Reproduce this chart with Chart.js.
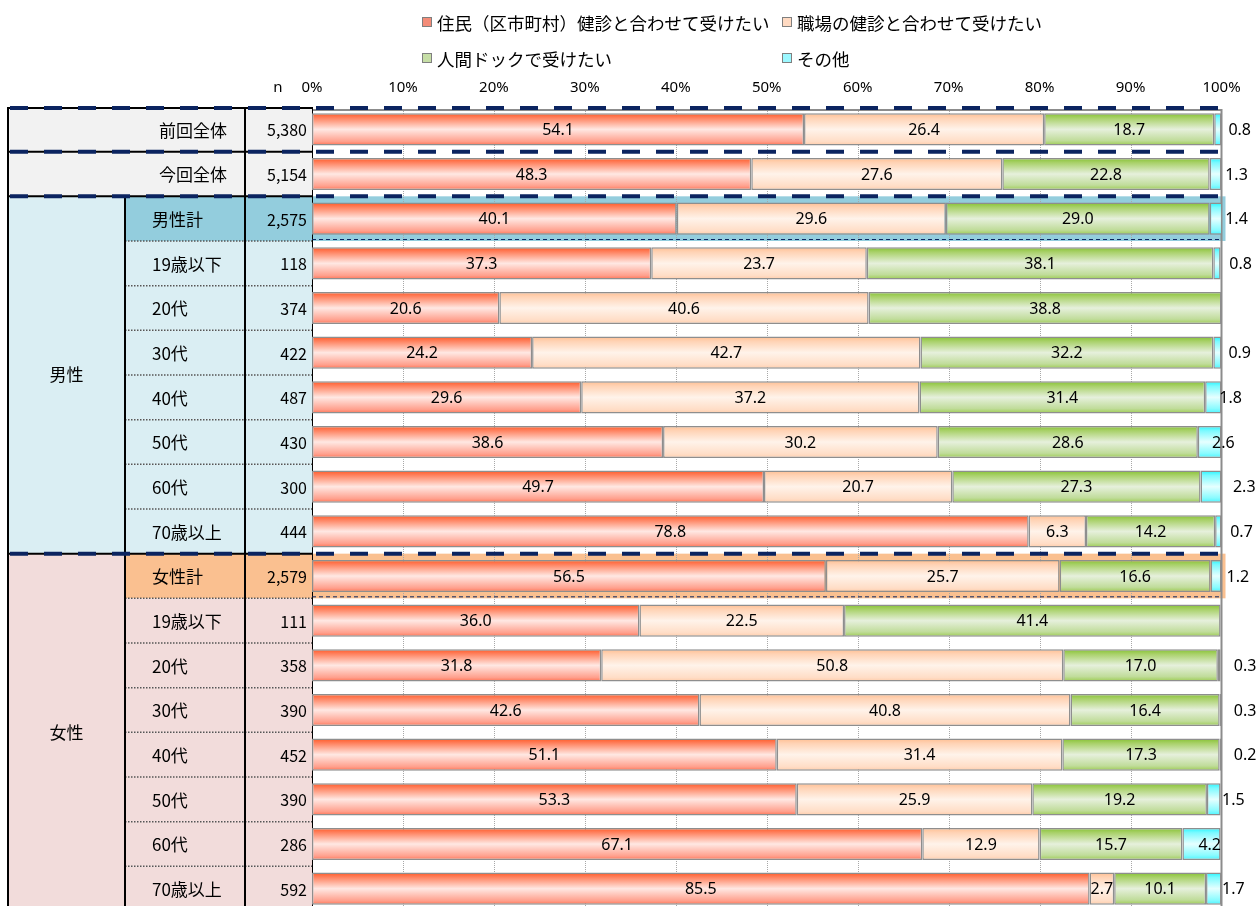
<!DOCTYPE html>
<html><head><meta charset="utf-8">
<script src="https://cdn.jsdelivr.net/npm/chart.js@4.4.1/dist/chart.umd.min.js"></script>
<style>html,body{margin:0;padding:0;background:#fff;overflow:hidden;width:1256px;height:906px}canvas{display:block}</style>
</head><body>
<canvas id="c" width="1256" height="912"></canvas>
<script>
// ---- data ----
const categories = ['前回全体','今回全体','男性計','19歳以下','20代','30代','40代','50代','60代','70歳以上','女性計','19歳以下','20代','30代','40代','50代','60代','70歳以上'];
const rowGroups = ['','','男性','男性','男性','男性','男性','男性','男性','男性','女性','女性','女性','女性','女性','女性','女性','女性'];
const sampleSizes = ['5,380','5,154','2,575','118','374','422','487','430','300','444','2,579','111','358','390','452','390','286','592'];
const seriesNames = ['住民（区市町村）健診と合わせて受けたい','職場の健診と合わせて受けたい','人間ドックで受けたい','その他'];
const jumin   = [54.1,48.3,40.1,37.3,20.6,24.2,29.6,38.6,49.7,78.8,56.5,36.0,31.8,42.6,51.1,53.3,67.1,85.5];
const shokuba = [26.4,27.6,29.6,23.7,40.6,42.7,37.2,30.2,20.7,6.3,25.7,22.5,50.8,40.8,31.4,25.9,12.9,2.7];
const dock    = [18.7,22.8,29.0,38.1,38.8,32.2,31.4,28.6,27.3,14.2,16.6,41.4,17.0,16.4,17.3,19.2,15.7,10.1];
const other   = [0.8,1.3,1.4,0.8,0,0.9,1.8,2.6,2.3,0.7,1.2,0,0.3,0.3,0.2,1.5,4.2,1.7];
const tickLabels = ['0%','10%','20%','30%','40%','50%','60%','70%','80%','90%','100%'];
const nHeader = 'n';

// ---- style config (label anchors for the small "その他" values, in axis % units) ----
const otherLabelX = [102.0,101.65,101.65,102.1,null,102.0,101.0,100.2,102.5,102.2,101.8,null,102.6,102.6,102.6,101.3,98.7,101.3];
const gradStops = [
  [[0,'#FF5A26'],[0.12,'#FF7B56'],[0.5,'#FFE8E3'],[0.88,'#FF9F8C'],[1,'#FF7252']],
  [[0,'#FFBE92'],[0.15,'#FFD3B5'],[0.5,'#FFF3EA'],[0.88,'#FFDDC6'],[1,'#FFCBA8']],
  [[0,'#86C232'],[0.15,'#A9D16A'],[0.5,'#E6F0DC'],[0.85,'#C0DC9A'],[1,'#9BCB50']],
  [[0,'#22F5FF'],[0.15,'#7CFAFF'],[0.5,'#E6FFFF'],[0.85,'#8AFBFF'],[1,'#46F4FF']]
];
const legendSwatch = ['#F48C78','#FFDAC2','#C6DEA6','#9CF8FF'];
const legendPos = [[422,22],[782,22],[422,58],[782,58]];
const groupFill = {'男性':'#DAEEF3','女性':'#F2DCDB'};
const totalFill = {'男性':'#93CDDD','女性':'#FAC090'};
const overallFill = '#F2F2F2';
const NAVY = '#0B2460';
const COL = {x0:8, x1:125, x2:245};
const BAR_PCT = 0.72;
const JP = '"Noto Sans CJK JP","Noto Sans",sans-serif';
const LAT = '"Noto Sans","DejaVu Sans",sans-serif';

function gradFor(i){
  return function(c){
    const chart = c.chart, ca = chart.chartArea;
    if(!ca || c.dataIndex === undefined) return gradStops[i][2][1];
    const ys = chart.scales.y;
    const rh = (ca.bottom - ca.top)/categories.length;
    const yc = ys.getPixelForValue(c.dataIndex);
    const h = rh*BAR_PCT;
    const g = chart.ctx.createLinearGradient(0, yc-h/2, 0, yc+h/2);
    gradStops[i].forEach(s=>g.addColorStop(s[0], s[1]));
    return g;
  };
}

const seriesData = [jumin, shokuba, dock, other];
const datasets = seriesData.map((d,i)=>({
  label: seriesNames[i],
  data: d,
  backgroundColor: gradFor(i),
  borderColor: '#8E8E8E',
  borderWidth: 1.5,
  borderSkipped: false,
  categoryPercentage: 1,
  barPercentage: BAR_PCT
}));

function dashedLine(ctx, x1, y, x2, w, dash, color){
  ctx.save(); ctx.strokeStyle=color; ctx.lineWidth=w; ctx.setLineDash(dash);
  ctx.beginPath(); ctx.moveTo(x1,y); ctx.lineTo(x2,y); ctx.stroke(); ctx.restore();
}

const decor = {
  id:'decor',
  beforeDraw(chart){
    const ctx = chart.ctx, ca = chart.chartArea, xs = chart.scales.x, ys = chart.scales.y;
    const rh = (ca.bottom-ca.top)/categories.length;
    const x100 = xs.getPixelForValue(100);
    categories.forEach((c,i)=>{
      if(rowGroups[i] && c.endsWith('計')){
        const t = ys.getPixelForValue(i)-rh/2;
        ctx.fillStyle = totalFill[rowGroups[i]];
        ctx.fillRect(ca.left, t, x100+4-ca.left, rh);
      }
    });
  },
  beforeDatasetsDraw(chart){
    const ctx = chart.ctx, ca = chart.chartArea, xs = chart.scales.x;
    const x100 = xs.getPixelForValue(100);
    ctx.save();
    ctx.strokeStyle = '#A8A8A8'; ctx.lineWidth = 1; ctx.setLineDash([1,1]);
    xs.ticks.forEach(t=>{
      if(t.value<=0 || t.value>=100) return;
      const x = Math.round(xs.getPixelForValue(t.value))+0.5;
      ctx.beginPath(); ctx.moveTo(x, ca.top+2); ctx.lineTo(x, ca.bottom); ctx.stroke();
    });
    ctx.setLineDash([]);
    ctx.strokeStyle = '#8C8C8C'; ctx.lineWidth = 2;
    ctx.beginPath(); ctx.moveTo(ca.left, ca.top+3); ctx.lineTo(x100, ca.top+3); ctx.lineTo(x100, ca.bottom); ctx.stroke();
    ctx.strokeStyle = '#000'; ctx.lineWidth = 2;
    ctx.beginPath(); ctx.moveTo(ca.left, ca.top); ctx.lineTo(ca.left, ca.bottom); ctx.stroke();
    ctx.restore();
  },
  afterDatasetsDraw(chart){
    const ctx = chart.ctx, xs = chart.scales.x;
    ctx.save();
    ctx.fillStyle = '#000'; ctx.font = '16px '+LAT; ctx.textBaseline='middle'; ctx.textAlign='center';
    chart.data.datasets.forEach((ds,di)=>{
      const meta = chart.getDatasetMeta(di);
      meta.data.forEach((el,i)=>{
        const v = ds.data[i];
        if(!v) return;
        const p = el.getProps(['x','base','y'], true);
        let x = (p.x+p.base)/2;
        if(di===3){ if(otherLabelX[i]==null) return; x = xs.getPixelForValue(otherLabelX[i]); }
        ctx.fillText(v.toFixed(1), x, p.y+1);
      });
    });
    ctx.restore();
  },
  afterDraw(chart){
    const ctx = chart.ctx, ca = chart.chartArea, xs = chart.scales.x, ys = chart.scales.y;
    const n = categories.length, rh = (ca.bottom-ca.top)/n;
    const X3 = ca.left, x100 = xs.getPixelForValue(100);
    const top = i => ys.getPixelForValue(i)-rh/2;
    const bottom = top(n-1)+rh;
    ctx.save();
    categories.forEach((c,i)=>{
      const g = rowGroups[i], t = top(i);
      if(!g){ ctx.fillStyle = overallFill; ctx.fillRect(COL.x0, t, X3-COL.x0, rh); }
      else {
        ctx.fillStyle = c.endsWith('計') ? totalFill[g] : groupFill[g];
        ctx.fillRect(COL.x1, t, X3-COL.x1, rh);
      }
    });
    const gNames = [...new Set(rowGroups.filter(g=>g))];
    gNames.forEach(g=>{
      const first = rowGroups.indexOf(g), last = rowGroups.lastIndexOf(g);
      const t = top(first), b = top(last)+rh;
      ctx.fillStyle = groupFill[g]; ctx.fillRect(COL.x0, t, COL.x1-COL.x0, b-t);
      ctx.fillStyle = '#000'; ctx.font = '17px '+JP; ctx.textAlign='center'; ctx.textBaseline='middle';
      ctx.fillText(g, (COL.x0+COL.x1)/2, (t+b)/2);
    });
    ctx.strokeStyle = '#555'; ctx.lineWidth = 1.5; ctx.setLineDash([1.5,1.5]);
    categories.forEach((c,i)=>{
      if(i>0 && rowGroups[i] && rowGroups[i]===rowGroups[i-1]){
        const y = top(i);
        ctx.beginPath(); ctx.moveTo(COL.x1, y); ctx.lineTo(X3, y); ctx.stroke();
      }
    });
    ctx.setLineDash([]);
    ctx.fillStyle = '#000'; ctx.textBaseline='middle';
    categories.forEach((c,i)=>{
      const yc = ys.getPixelForValue(i)+1;
      ctx.font = '17px '+JP;
      if(!rowGroups[i]){ ctx.textAlign='right'; ctx.fillText(c, COL.x2-18, yc); }
      else { ctx.textAlign='left'; ctx.fillText(c, COL.x1+27, yc); }
      ctx.font = '16px '+JP; ctx.textAlign='right';
      ctx.fillText(sampleSizes[i], X3-5, yc);
    });
    ctx.font = '15px '+LAT; ctx.textAlign='center';
    ctx.fillText(nHeader, 278, 88);
    ctx.strokeStyle = '#000'; ctx.lineWidth = 2;
    [[COL.x0, top(0)],[COL.x2, top(0)],[COL.x1, top(2)]].forEach(([x,t])=>{
      ctx.beginPath(); ctx.moveTo(x, t); ctx.lineTo(x, bottom); ctx.stroke();
    });
    categories.forEach((c,i)=>{
      if(rowGroups[i] && c.endsWith('計')){
        dashedLine(ctx, ca.left, top(i)+rh-1.5, x100, 1, [4,3], NAVY);
      }
    });
    categories.forEach((c,i)=>{
      if(i===0 || !rowGroups[i] || rowGroups[i]!==rowGroups[i-1]){
        const y = top(i)+(i===0?1:0);
        ctx.strokeStyle='#000'; ctx.lineWidth=2; ctx.setLineDash([]);
        ctx.beginPath(); ctx.moveTo(COL.x0, y); ctx.lineTo(X3, y); ctx.stroke();
        dashedLine(ctx, COL.x0+2, y, x100, 4, [18,16], NAVY);
      }
    });
    ctx.font = '17.5px '+JP; ctx.textAlign='left'; ctx.textBaseline='middle';
    seriesNames.forEach((s,i)=>{
      const [lx,ly] = legendPos[i];
      ctx.fillStyle = legendSwatch[i]; ctx.fillRect(lx, ly-5, 10, 10);
      ctx.strokeStyle = '#7F7F7F'; ctx.lineWidth = 1; ctx.strokeRect(lx+0.5, ly-4.5, 9, 9);
      ctx.fillStyle = '#000'; ctx.fillText(s, lx+15, ly+1);
    });
    ctx.restore();
  }
};

new Chart(document.getElementById('c'), {
  type:'bar',
  data:{ labels: categories, datasets },
  options:{
    indexAxis:'y', responsive:false, animation:false, devicePixelRatio:1,
    layout:{ padding:{ left:312, right:34.5, top:69, bottom:1 } },
    plugins:{ legend:{display:false}, tooltip:{enabled:false} },
    scales:{
      x:{ position:'top', stacked:true, min:0, max:100,
          grid:{display:false, drawTicks:false}, border:{display:false},
          ticks:{ autoSkip:false, maxRotation:0, minRotation:0, padding:10, color:'#000', stepSize:10,
                  font:{ size:15, family:'"Noto Sans","DejaVu Sans",sans-serif' },
                  callback:(v,i)=>tickLabels[i] } },
      y:{ stacked:true, display:false }
    }
  },
  plugins:[decor]
});
</script>
</body></html>
